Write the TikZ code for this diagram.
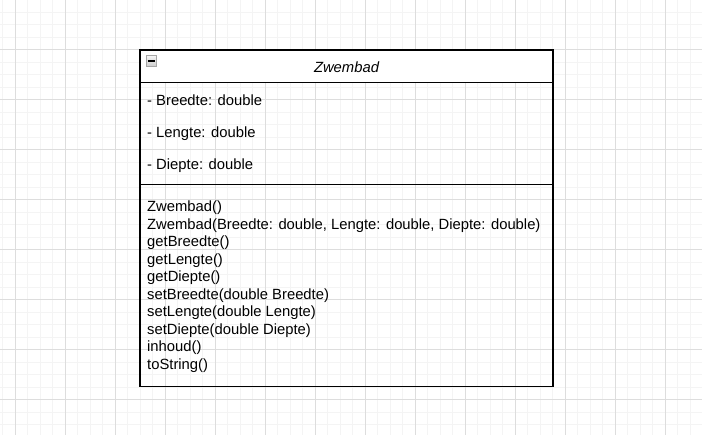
\documentclass[tikz,border=0pt]{standalone}
\usepackage{fontspec}
\setmainfont{Liberation Sans}
\usetikzlibrary{positioning}

\begin{document}
\begin{tikzpicture}[
  x=1pt, y=-1pt,
  font=\fontsize{14.8}{17.5}\selectfont,
  minorgrid/.style={draw=gray!9, line width=0.9pt},
  majorgrid/.style={draw=gray!27, line width=0.9pt},
  compart/.style={draw=black, line width=1.2pt, minimum width=413pt, inner sep=0pt,
    outer sep=0pt, anchor=north west},
  member/.style={anchor=base west, inner sep=0pt},
  toggle/.style={draw=gray!70, top color=gray!8, bottom color=gray!40,
    minimum width=10.5pt, minimum height=10.5pt, inner sep=0pt, line width=0.8pt}
]

% --- canvas and grid ---
\useasboundingbox (0,0) rectangle (702,435);
\fill[white] (0,0) rectangle (702,435);
\foreach \gx in {2.5,15,...,702} \draw[minorgrid] (\gx,0) -- (\gx,435);
\foreach \gy in {12,24.5,...,435} \draw[minorgrid] (0,\gy) -- (702,\gy);
\foreach \gx in {15,65,...,702} \draw[majorgrid] (\gx,0) -- (\gx,435);
\foreach \gy in {49.5,99.5,...,435} \draw[majorgrid] (0,\gy) -- (702,\gy);

% --- class box: name, fields, operations ---
\node[compart, fill=white, minimum height=32.5pt] (head) at (140,50) {};
\node[compart, minimum height=102pt] (attrs) at (head.south west) {};
\node[compart, minimum height=202pt] (ops) at (attrs.south west) {};

\node[toggle] (fold) at (151.5,61) {};
\draw[line width=1.6pt] ([xshift=2pt]fold.west) -- ([xshift=-2pt]fold.east);

\node[anchor=base, inner sep=0pt, font=\fontsize{14.8}{17.5}\selectfont\itshape] (title)
  at (346.5,72.5) {Zwembad};

% fields
\node[member] (f1) at (147,105.5) {- Breedte: double};
\node[member] (f2) at (147,137.5) {- Lengte: double};
\node[member] (f3) at (147,169.5) {- Diepte: double};

% operations
\node[member] (m1)  at (147,212)   {Zwembad()};
\node[member] (m2)  at (147,229.5) {Zwembad(Breedte: double, Lengte: double, Diepte: double)};
\node[member] (m3)  at (147,247)   {getBreedte()};
\node[member] (m4)  at (147,264.5) {getLengte()};
\node[member] (m5)  at (147,282)   {getDiepte()};
\node[member] (m6)  at (147,299.5) {setBreedte(double Breedte)};
\node[member] (m7)  at (147,317)   {setLengte(double Lengte)};
\node[member] (m8)  at (147,334.5) {setDiepte(double Diepte)};
\node[member] (m9)  at (147,352)   {inhoud()};
\node[member] (m10) at (147,369.5) {toString()};

\end{tikzpicture}
\end{document}
